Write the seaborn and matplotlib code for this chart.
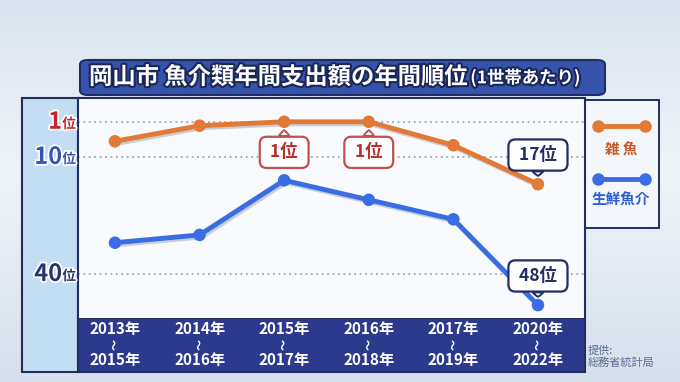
import matplotlib

matplotlib.use("Agg")
import matplotlib.pyplot as plt
import matplotlib.patheffects as pe
import matplotlib.transforms as mtransforms
from matplotlib.lines import Line2D
from matplotlib.patches import FancyBboxPatch, Rectangle
import numpy as np
import pandas as pd
import seaborn as sns

# --- data (rank per 3-year period, 1 = top) ---
period_start = ["2013年", "2014年", "2015年", "2016年", "2017年", "2020年"]
period_end = ["2015年", "2016年", "2017年", "2018年", "2019年", "2022年"]
zako_rank = [6, 2, 1, 1, 7, 17]
seisen_rank = [32, 30, 16, 21, 26, 48]
series_names = ["雑 魚", "生鮮魚介"]
rank_ticks = [1, 10, 40]
callouts = [("雑 魚", 2, "1位"), ("雑 魚", 3, "1位"), ("雑 魚", 5, "17位"), ("生鮮魚介", 5, "48位")]

ORANGE = "#e27936"
BLUE = "#3a6ce4"
NAVY = "#2c3a8e"
DARK = "#232d62"

W, H = 680, 382


def fx(x):
    return x / W


def fy(y):
    return 1 - y / H


sns.set_theme(style="white")
plt.rcParams["font.family"] = ["Noto Sans CJK JP", "DejaVu Sans"]

fig = plt.figure(figsize=(6.8, 3.82), dpi=100)
fig.patch.set_facecolor("#e2eaf3")

# soft background gradient
bg = fig.add_axes([0, 0, 1, 1], zorder=-10)
grad = np.linspace(0, 1, 100)[:, None]
grad = 1 - np.abs(grad - 0.45) * 1.6
bg.imshow(grad, cmap=sns.blend_palette(["#d6e0ec", "#eef3f8"], as_cmap=True),
          aspect="auto", extent=[0, 1, 0, 1])
bg.axis("off")

# left rank column
fig.patches.append(Rectangle((fx(22), fy(372)), fx(78) - fx(22), (372 - 98) / H,
                             transform=fig.transFigure, facecolor="#c3def3",
                             edgecolor=DARK, linewidth=1.5, zorder=1))
# bottom period band
fig.patches.append(Rectangle((fx(78), fy(372)), fx(585) - fx(78), (372 - 318) / H,
                             transform=fig.transFigure, facecolor=NAVY,
                             edgecolor=DARK, linewidth=1.5, zorder=1))

# main plot panel
ax = fig.add_axes([fx(78), fy(318), fx(585) - fx(78), (318 - 98) / H])
ax.set_zorder(5)
ax.set_facecolor("#f8fafd")

df = pd.DataFrame({
    "idx": list(range(len(period_start))) * 2,
    "rank": zako_rank + seisen_rank,
    "series": [series_names[0]] * len(zako_rank) + [series_names[1]] * len(seisen_rank),
})

for r in rank_ticks:
    ax.axhline(r, color="#9ea7b8", linestyle=(0, (1, 2)), linewidth=1.3, zorder=1)

sns.lineplot(data=df, x="idx", y="rank", hue="series", palette=[ORANGE, BLUE],
             marker="o", markersize=9, markeredgewidth=0, linewidth=3.5,
             legend=False, ax=ax, zorder=3,
             path_effects=[pe.SimpleLineShadow(offset=(1.2, -1.5), shadow_color="#9aa4b4", alpha=0.5),
                           pe.Normal()])

ax.set_xlim(-0.437, 5.556)
ax.set_ylim(51.3, -5.1)
ax.set_xticks([])
ax.set_yticks([])
ax.set_xlabel("")
ax.set_ylabel("")
for side in ["top", "left", "right"]:
    ax.spines[side].set_color(DARK)
    ax.spines[side].set_linewidth(1.5)
ax.spines["bottom"].set_visible(False)

# rank labels in the left column
blend = mtransforms.blended_transform_factory(fig.transFigure, ax.transData)
tick_colors = ["#c4262e", "#3356b8", "#2a3470"]
outline = [pe.withStroke(linewidth=2.5, foreground="white")]
for r, c in zip(rank_ticks, tick_colors):
    ax.text(fx(76), r + 0.6, "位", transform=blend, ha="right", va="center",
            fontsize=10, fontweight="bold", color=c, path_effects=outline, clip_on=False)
    ax.text(fx(62), r, str(r), transform=blend, ha="right", va="center",
            fontsize=17, fontweight="bold", color=c, path_effects=outline, clip_on=False)

# callout boxes
lookup = {series_names[0]: zako_rank, series_names[1]: seisen_rank}
for name, i, label in callouts:
    val = lookup[name][i]
    below = label == "1位"
    ec = "#c0504d" if below else DARK
    tc = "#b5302e" if below else DARK
    ax.annotate(f" {label} ", xy=(i, val), xytext=(0, -22 if below else 21),
                textcoords="offset points", ha="center", va="center",
                fontsize=12.5, fontweight="bold", color=tc, zorder=5,
                bbox=dict(boxstyle="round,pad=0.38,rounding_size=0.4", fc="white", ec=ec, lw=1.6),
                arrowprops=dict(arrowstyle="wedge,tail_width=0.6,shrink_factor=0.6",
                                fc="white", ec=ec, lw=1.4, shrinkA=0, shrinkB=6))

# period labels in the bottom band
xt = mtransforms.blended_transform_factory(ax.transData, fig.transFigure)
for i, (a, b) in enumerate(zip(period_start, period_end)):
    for yy, s in [(329, a), (360, b)]:
        ax.text(i, fy(yy), s, transform=xt, ha="center", va="center", fontsize=11,
                fontweight="bold", color="white", clip_on=False)
    ax.text(i, fy(344.5), "〜", transform=xt, ha="center", va="center", fontsize=8,
            fontweight="bold", color="white", rotation=90, clip_on=False)

# title
fig.patches.append(FancyBboxPatch((fx(80), fy(95)), fx(605) - fx(80), (95 - 60) / H,
                                  boxstyle="round,pad=0,rounding_size=0.012",
                                  transform=fig.transFigure, facecolor="#3653ac",
                                  edgecolor="#1f2c66", linewidth=1.5, zorder=1))
title_fx = [pe.withStroke(linewidth=3, foreground="#1b2658")]
main_title = fig.text(fx(89), fy(77), "岡山市 魚介類年間支出額の年間順位", ha="left", va="center",
                      fontsize=16.8, fontweight="bold", color="white", path_effects=title_fx)
fig.canvas.draw()
title_right = main_title.get_window_extent().x1 / fig.bbox.width
fig.text(title_right + fx(2), fy(78), "(1世帯あたり)", ha="left", va="center",
         fontsize=12.5, fontweight="bold", color="white", path_effects=title_fx)

# legend box
fig.patches.append(Rectangle((fx(585), fy(228)), fx(659) - fx(585), (228 - 100) / H,
                             transform=fig.transFigure, facecolor="#f3f6fa",
                             edgecolor=DARK, linewidth=1.4, zorder=1))
for (name, color, ly, ty, tc) in [(series_names[0], ORANGE, 126, 150, "#c35a28"),
                                   (series_names[1], BLUE, 179, 200, "#2f5fd2")]:
    fig.lines.append(Line2D([fx(598), fx(645)], [fy(ly), fy(ly)], transform=fig.transFigure,
                            color=color, linewidth=3.5, marker="o", markersize=9,
                            markeredgewidth=0, zorder=3))
    fig.text(fx(621), fy(ty), name, ha="center", va="center", fontsize=10.5,
             fontweight="bold", color=tc)

fig.text(fx(588), fy(357), "提供:\n総務省統計局", ha="left", va="center", fontsize=8,
         color="#5b6a92", linespacing=1.2)

fig.savefig("out.png", dpi=100, facecolor=fig.get_facecolor())
